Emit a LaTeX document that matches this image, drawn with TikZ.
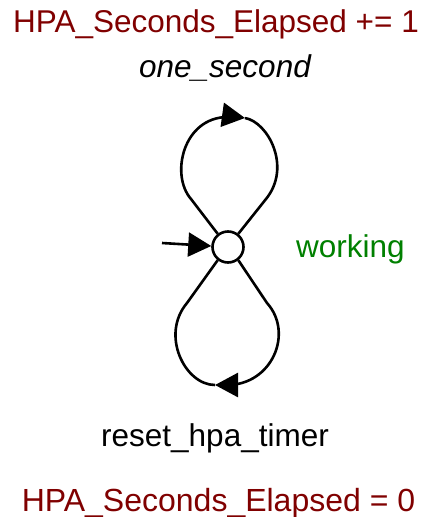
\documentclass[tikz,border=0pt]{standalone}
\usepackage{fontspec}
\setmainfont{Liberation Sans}
\usetikzlibrary{arrows.meta}
\definecolor{actred}{RGB}{128,0,0}
\definecolor{stgreen}{RGB}{0,128,0}
\begin{document}
\begin{tikzpicture}[x=1pt,y=1pt,
  every node/.style={font=\fontsize{31.5}{36}\selectfont},
  statebox/.style={draw,circle,fill=white,line width=2.6pt,minimum size=31pt,inner sep=0pt},
  edge/.style={line width=2.6pt},
  bigtip/.style={-{Triangle[length=23pt,width=24pt]}},
  action/.style={text=actred,anchor=base,inner sep=0pt},
  trig/.style={anchor=base,inner sep=0pt}]
\useasboundingbox (0,-517) rectangle (422,0);
\node[statebox] (s) at (228,-247) {};
\coordinate (init) at (162,-243);
\coordinate (toptip) at (245,-118);
\coordinate (bottip) at (215,-385);
\draw[edge,bigtip] (init) -- (s);
% top self-loop (one_second)
\draw[edge,bigtip] (s.128) -- (191,-199) .. controls (170,-175) and (183,-117) .. (228,-117)
   .. controls (235,-117) and (240,-117.3) .. (toptip);
\draw[edge] (toptip) .. controls (268,-122) and (292,-167) .. (266,-199) -- (s.52);
% bottom self-loop (reset_hpa_timer)
\draw[edge,bigtip] (s.-52) -- (267,-303) .. controls (294,-333) and (272,-385) .. (227,-385)
   .. controls (222,-385) and (219,-385) .. (bottip);
\draw[edge] (bottip) .. controls (185,-385) and (160,-335) .. (187,-303) -- (s.-128);
\node[action] (a1) at (216,-32) {HPA\_Seconds\_Elapsed += 1};
\node[trig] (t1) at (225,-77) {\itshape one\_second};
\node[anchor=base west,inner sep=0pt,text=stgreen] (lbl) at (296,-257.5) {working};
\node[trig] (t2) at (215,-446) {reset\_hpa\_timer};
\node[action,font=\fontsize{32}{36}\selectfont] (a2) at (218.5,-511.5) {HPA\_Seconds\_Elapsed = 0};
\end{tikzpicture}
\end{document}
